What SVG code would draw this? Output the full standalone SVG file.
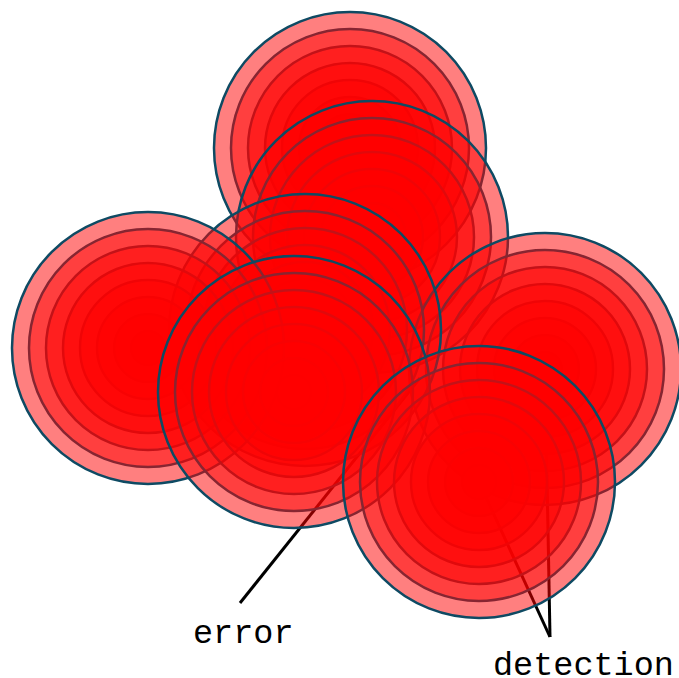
<svg xmlns="http://www.w3.org/2000/svg" xmlns:xlink="http://www.w3.org/1999/xlink" width="679" height="678" viewBox="0 0 679 678">
  <style>
    .ring { fill: #ff0000; fill-opacity: 0.5; stroke: #0e4a63; stroke-width: 2.5; }
    .conn { stroke: #000000; stroke-width: 3; fill: none; }
    .label { font-family: "Liberation Mono", "Courier New", monospace; font-size: 33.5px; fill: #000000; }
  </style>
  <defs>
    <g id="rings">
      <circle class="ring" r="17"/>
      <circle class="ring" r="34"/>
      <circle class="ring" r="51"/>
      <circle class="ring" r="68"/>
      <circle class="ring" r="85"/>
      <circle class="ring" r="102"/>
      <circle class="ring" r="119"/>
      <circle class="ring" r="136"/>
    </g>
  </defs>
  <rect width="679" height="678" fill="#ffffff"/>
  <g id="connectors">
    <line class="conn" x1="240" y1="603" x2="420" y2="378"/>
    <line class="conn" x1="550" y1="637" x2="479" y2="482"/>
    <line class="conn" x1="550" y1="637" x2="545" y2="369"/>
  </g>
  <g id="node1"><use xlink:href="#rings" href="#rings" transform="translate(350,148)"/></g>
  <g id="node2"><use xlink:href="#rings" href="#rings" transform="translate(372,237)"/></g>
  <g id="node6"><use xlink:href="#rings" href="#rings" transform="translate(545,369)"/></g>
  <g id="node4"><use xlink:href="#rings" href="#rings" transform="translate(305,330)"/></g>
  <g id="node3"><use xlink:href="#rings" href="#rings" transform="translate(148,348)"/></g>
  <g id="node5"><use xlink:href="#rings" href="#rings" transform="translate(294,392)"/></g>
  <g id="node7"><use xlink:href="#rings" href="#rings" transform="translate(479,482)"/></g>
  <g id="labels">
    <text class="label" x="193" y="643">error</text>
    <text class="label" x="493" y="675">detection</text>
  </g>
</svg>
